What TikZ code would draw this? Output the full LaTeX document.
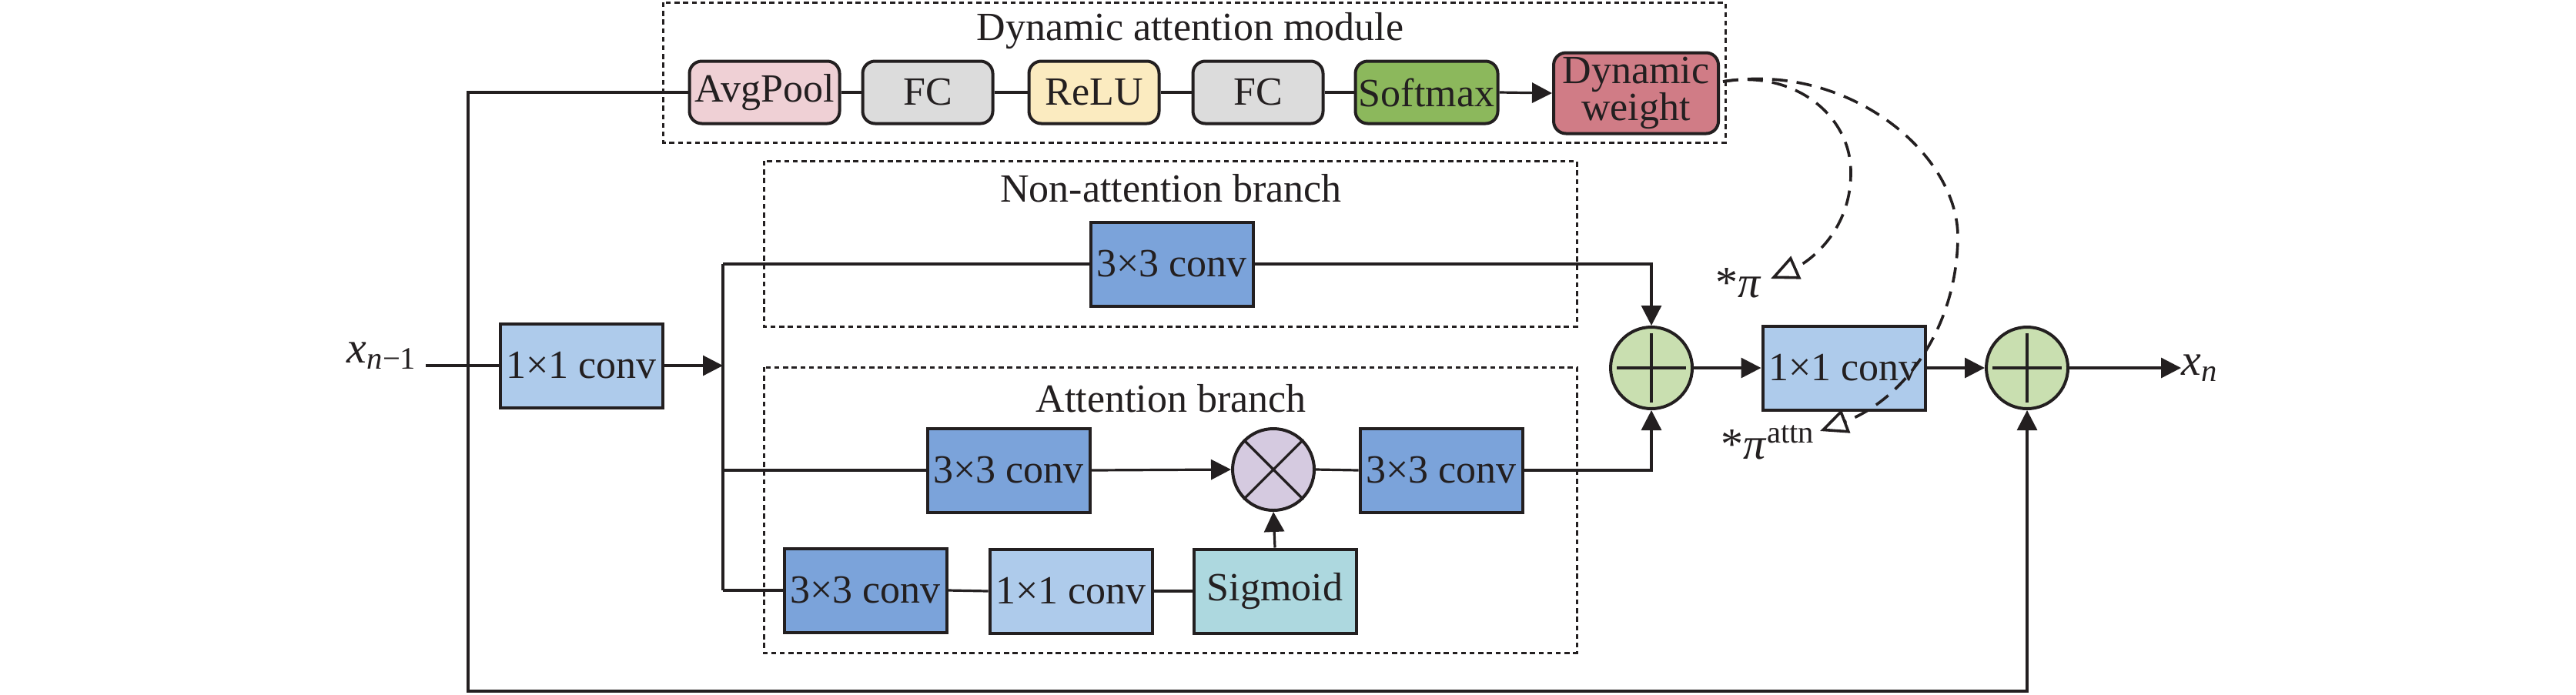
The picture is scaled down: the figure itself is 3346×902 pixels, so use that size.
\documentclass[tikz,border=0pt]{standalone}
\usepackage{fontspec}
\setmainfont{Liberation Serif}
\usetikzlibrary{arrows.meta,calc}
\definecolor{cpink}{HTML}{EFD0D5}
\definecolor{cgray}{HTML}{DCDCDC}
\definecolor{cyel}{HTML}{FBEBC0}
\definecolor{cgreen}{HTML}{8CB85C}
\definecolor{crose}{HTML}{D07C86}
\definecolor{cdblue}{HTML}{7BA3DA}
\definecolor{clblue}{HTML}{AECBEB}
\definecolor{cteal}{HTML}{ADD8DF}
\definecolor{cadd}{HTML}{C9DFB0}
\definecolor{cmul}{HTML}{D5CAE0}
\definecolor{cline}{HTML}{231F20}
\begin{document}
\begin{tikzpicture}[x=0.25pt,y=-0.25pt,
  every node/.style={font=\fontsize{13}{12}\selectfont, text=cline},
  conv/.style={draw=cline, line width=1pt, minimum width=52.75pt, minimum height=27.25pt, inner sep=0pt},
  dconv/.style={conv, fill=cdblue},
  lconv/.style={conv, fill=clblue},
  modbox/.style={draw=cline, line width=1pt, rounded corners=4pt, minimum height=20.25pt, inner sep=0pt, minimum width=42.25pt},
  opcirc/.style={draw=cline, line width=1pt, circle, minimum size=26.5pt, inner sep=0pt},
  region/.style={draw=cline, line width=0.75pt, dash pattern=on 1.6pt off 1.2pt},
  wire/.style={draw=cline, line width=0.8pt},
  arr/.style={wire, -{Triangle[length=6.5pt,width=6.5pt]}},
  dcurve/.style={draw=cline, line width=0.9pt, dash pattern=on 5pt off 3pt, -{Triangle[open,length=9pt,width=8pt]}},
  mathlab/.style={font=\fontsize{14.5}{15}\selectfont, inner sep=0pt}
]
\useasboundingbox (0,0) rectangle (3346,902);

% dashed regions
\draw[region] (861,3) rectangle (2241,185);
\draw[region] (992,209) rectangle (2048,424);
\draw[region] (992,477) rectangle (2048,848);
\node (tmod) at (1546,40) {Dynamic attention module};
\node (tnon) at (1521,245) {Non-attention branch};
\node (tatt) at (1521,518) {Attention branch};

% dynamic attention module
\node[modbox, fill=cpink, minimum width=48.75pt] (avg) at (993,120) {AvgPool};
\node[modbox, fill=cgray] (fc1) at (1205,120) {FC};
\node[modbox, fill=cyel] (relu) at (1421,120) {ReLU};
\node[modbox, fill=cgray] (fc2) at (1634,120) {FC};
\node[modbox, fill=cgreen, minimum width=46.25pt] (soft) at (1853,120) {Softmax};
\node[modbox, fill=crose, minimum width=53.5pt, minimum height=26.25pt, align=center] (dw) at (2125,121) {Dynamic\\weight};
\draw[wire] (avg.east) -- (fc1.west);
\draw[wire] (fc1.east) -- (relu.west);
\draw[wire] (relu.east) -- (fc2.west);
\draw[wire] (fc2.east) -- (soft.west);
\draw[arr] (soft.east) -- (dw.west);

% input
\node[mathlab, anchor=east] (xin) at (543,462) {\textit{x}\textsubscript{\textit{n}−1}};
\node[lconv] (conv1) at (755,475) {1×1 conv};
\coordinate (xs) at (553,475);
\draw[wire] (xs) -- (conv1.west);
\coordinate (tl) at (608,120);
\coordinate (bl) at (608,898);

% branches
\coordinate (sp) at (939,475);
\coordinate (bt) at (939,343);
\coordinate (r2) at (939,611);
\coordinate (bb) at (939,767);
\draw[arr] (conv1.east) -- (sp);
\draw[wire] (bt) -- (bb);

\node[dconv] (c3a) at (1522,343) {3×3 conv};
\node[dconv] (c3b) at (1310,611) {3×3 conv};
\node[opcirc, fill=cmul] (mul) at (1654,610) {};
\node[dconv] (c3c) at (1872,611) {3×3 conv};
\node[dconv] (c3d) at (1124,767) {3×3 conv};
\node[lconv] (c1b) at (1391,768) {1×1 conv};
\node[conv, fill=cteal] (sig) at (1656,768) {Sigmoid};
\draw[wire] (mul.north west) -- (mul.south east);
\draw[wire] (mul.north east) -- (mul.south west);

\node[opcirc, fill=cadd] (add1) at (2145,478) {};
\node[lconv] (conv2) at (2395,478) {1×1 conv};
\node[opcirc, fill=cadd] (add2) at (2633,478) {};
\foreach \n in {add1,add2}{
  \draw[wire] ($(\n.center)+(-45,0)$) -- ($(\n.center)+(45,0)$);
  \draw[wire] ($(\n.center)+(0,-45)$) -- ($(\n.center)+(0,45)$);
}
\node[mathlab, anchor=west] (xout) at (2833,478) {\textit{x}\textsubscript{\textit{n}}};

\draw[wire] (bt) -- (c3a.west);
\draw[arr] (c3a.east) -| (add1.north);
\draw[wire] (r2) -- (c3b.west);
\draw[arr] (c3b.east) -- (mul.west);
\draw[wire] (mul.east) -- (c3c.west);
\draw[arr] (c3c.east) -| (add1.south);
\draw[wire] (bb) -- (c3d.west);
\draw[wire] (c3d.east) -- (c1b.west);
\draw[wire] (c1b.east) -- (sig.west);
\draw[arr] (sig.north) -- (mul.south);

\draw[arr] (add1.east) -- (conv2.west);
\draw[arr] (conv2.east) -- (add2.west);
\draw[arr] (add2.east) -- (xout.west);
\draw[arr] (avg.west) -- (tl) -- (bl) -| (add2.south);

% dynamic weight curves
\coordinate (cs) at (2238,106);
\coordinate (p1) at (2300,362);
\coordinate (p2) at (2364,560);
\draw[dcurve] (cs) .. controls (2330,90) and (2405,150) .. (2404,225)
  .. controls (2404,300) and (2350,340) .. (p1);
\draw[dcurve] (cs) .. controls (2400,80) and (2545,200) .. (2543,310)
  .. controls (2541,430) and (2470,520) .. (p2);
\node[mathlab] (pi1) at (2258,368) {*\textit{π}};
\node[mathlab, anchor=west] (pi2) at (2235,575) {*\textit{π}\textsuperscript{attn}};
\end{tikzpicture}
\end{document}
